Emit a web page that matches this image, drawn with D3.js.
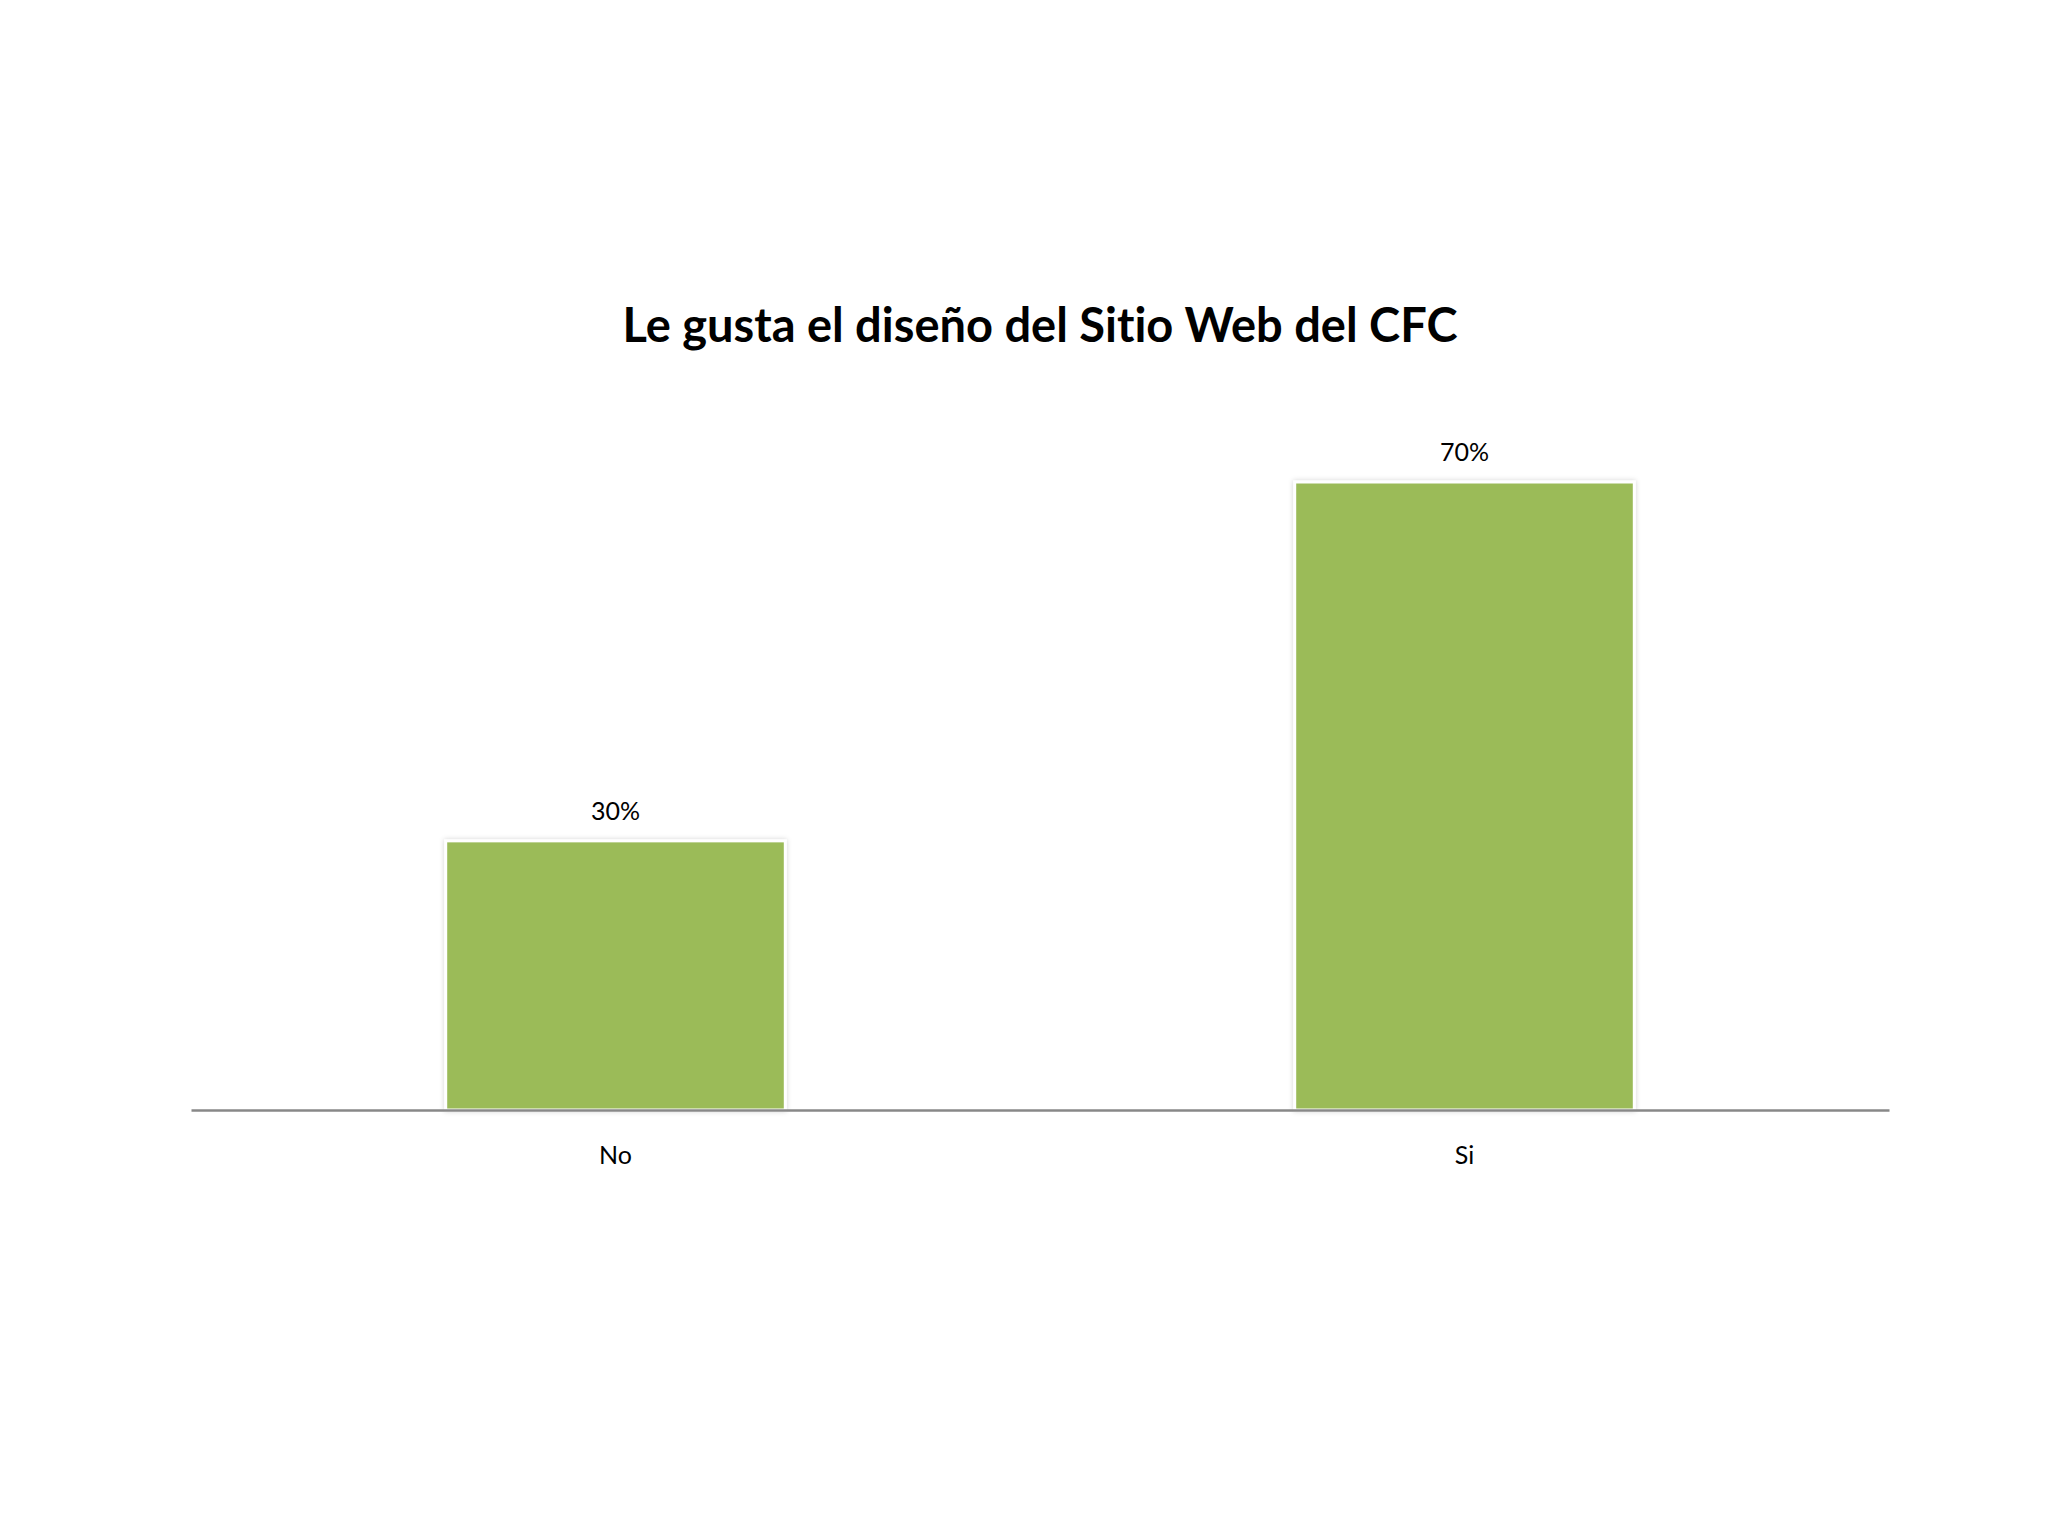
<!DOCTYPE html>
<html>
<head>
<meta charset="utf-8">
<script src="https://cdn.jsdelivr.net/npm/d3@7"></script>
<style>
  html, body { margin: 0; padding: 0; background: #fff; }
  svg { display: block; }
  text { font-variant-ligatures: none; font-feature-settings: "liga" 0; }
</style>
</head>
<body>
<script>
const categories = ["No", "Si"];
const values = [0.30, 0.70];
const valueLabels = ["30%", "70%"];
const title = "Le gusta el diseño del Sitio Web del CFC";

const W = 2048, H = 1536;
const svg = d3.select("body").append("svg").attr("width", W).attr("height", H);

const defs = svg.append("defs");
const f = defs.append("filter").attr("id", "shadow").attr("x", "-10%").attr("y", "-10%").attr("width", "120%").attr("height", "120%");
f.append("feDropShadow").attr("dx", 0).attr("dy", 0).attr("stdDeviation", 2.5).attr("flood-color", "#000").attr("flood-opacity", 0.18);

const x = d3.scaleBand().domain(categories).range([191, 1889]).paddingInner(0.6).paddingOuter(0.3);
const y = d3.scaleLinear().domain([0, 0.7]).range([1110, 482]);

svg.append("text")
  .attr("x", 1040).attr("y", 342)
  .attr("text-anchor", "middle")
  .attr("font-family", "Lato, 'Open Sans', sans-serif")
  .attr("font-weight", 700)
  .attr("font-size", 47)
  .attr("fill", "#000")
  .text(title);

svg.append("g").selectAll("rect").data(values).join("rect")
  .attr("x", (d, i) => x(categories[i]))
  .attr("y", d => y(d))
  .attr("width", x.bandwidth())
  .attr("height", d => y(0) - y(d))
  .attr("fill", "#9BBB59")
  .attr("stroke", "#fff")
  .attr("stroke-width", 3)
  .attr("filter", "url(#shadow)");

svg.append("g").selectAll("text").data(values).join("text")
  .attr("x", (d, i) => x(categories[i]) + x.bandwidth() / 2)
  .attr("y", d => y(d) - 21)
  .attr("text-anchor", "middle")
  .attr("font-family", "Lato, 'Open Sans', sans-serif")
  .attr("font-size", 25)
  .attr("fill", "#000")
  .text((d, i) => valueLabels[i]);

const axis = d3.axisBottom(x).tickSize(0).tickPadding(36);
const gx = svg.append("g").attr("transform", `translate(0,${y(0)})`).call(axis);
gx.select(".domain").attr("stroke", "#888").attr("stroke-width", 2.5);
gx.selectAll("text")
  .attr("font-family", "Lato, 'Open Sans', sans-serif")
  .attr("font-size", 25)
  .attr("fill", "#000");
</script>
</body>
</html>
